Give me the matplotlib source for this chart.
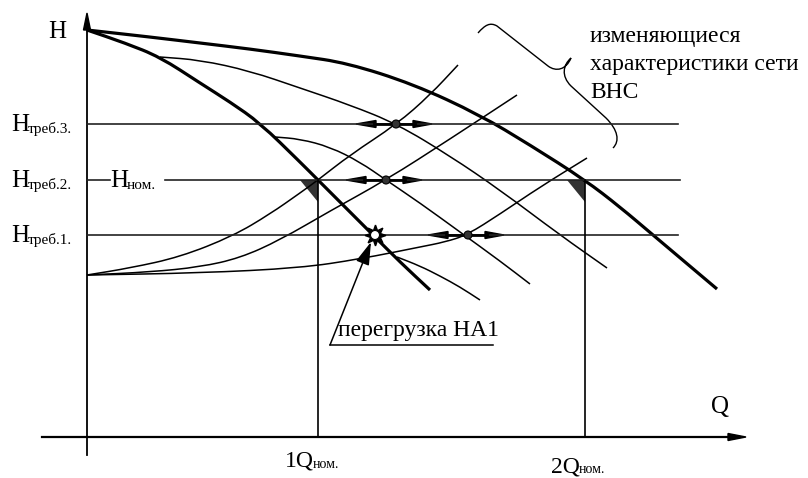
import matplotlib
matplotlib.use("Agg")
import matplotlib.pyplot as plt
from matplotlib.path import Path
from matplotlib.patches import PathPatch, Circle

plt.rcParams['font.family'] = ['Liberation Serif', 'DejaVu Serif']

# ---- schematic data (drawing units = pixels of the reference, y downwards) ----
origin = (87, 437)
# pump curves (thick): single pump HA1 and two pumps
pump1_q = [87, 125, 160, 200, 230, 260, 300, 318, 345, 373, 400, 430]
pump1_h = [30, 43, 57, 83, 102, 123, 162, 180, 207, 235, 262, 290]
pump2_q = [87, 150, 200, 250, 300, 347, 413, 480, 530, 585, 620, 653, 717]
pump2_h = [30, 37, 43, 49, 56, 63, 84, 115, 145, 180, 207, 235, 289]
# reduced pump curves (thin)
curveA_q = [160, 200, 250, 300, 350, 397, 450, 500, 560, 607]
curveA_h = [57, 60, 71, 88, 105, 124, 156, 190, 235, 268]
curveB_q = [275, 300, 330, 360, 386, 420, 460, 500, 530]
curveB_h = [137, 139, 147, 162, 180, 203, 232, 261, 284]
curveC_q = [397, 420, 440, 460, 480]
curveC_h = [257, 266, 276, 287, 300]
# network (system) characteristics
sys1_q = [87, 130, 180, 233, 270, 300, 318, 350, 397, 430, 458]
sys1_h = [275, 268, 257, 236, 214, 193, 180, 155, 124, 95, 65]
sys2_q = [87, 150, 200, 240, 280, 330, 386, 450, 517]
sys2_h = [275, 272, 267, 258, 240, 211, 180, 139, 95]
sys3_q = [87, 200, 300, 360, 420, 445, 467, 500, 540, 587]
sys3_h = [275, 273, 268, 259, 247, 242, 235, 214, 187, 158]
# required heads
h_req = [235, 180, 124]
h_req_labels = ['треб.1.', 'треб.2.', 'треб.3.']
# nominal flows
q_nom = [318, 585]
q_nom_labels = ['1Q', '2Q']
h_nom = 180
# operating points
dots_q = [468, 386, 396]
dots_h = [235, 180, 124]
overload_q, overload_h = 375, 235

fig = plt.figure(figsize=(8.08, 4.78), dpi=100)
ax = fig.add_axes([0, 0, 1, 1])
ax.set_xlim(0, 808)
ax.set_ylim(478, 0)
ax.axis('off')
fig.canvas.draw()
renderer = fig.canvas.get_renderer()

K = 'black'


def smooth(q, h, **kw):
    pts = list(zip(q, h))
    verts = [pts[0]]
    codes = [Path.MOVETO]
    mids = [((a[0] + b[0]) / 2, (a[1] + b[1]) / 2) for a, b in zip(pts[:-1], pts[1:])]
    verts.append(mids[0]); codes.append(Path.LINETO)
    for i in range(1, len(pts) - 1):
        verts += [pts[i], mids[i]]
        codes += [Path.CURVE3, Path.CURVE3]
    verts.append(pts[-1]); codes.append(Path.LINETO)
    ax.add_patch(PathPatch(Path(verts, codes), facecolor='none', **kw))


def label(x, y, main, sub, size=18, subsize=11, drop=2):
    t = ax.text(x, y, main, fontsize=size, va='baseline')
    bb = t.get_window_extent(renderer)
    x1 = ax.transData.inverted().transform((bb.x1, bb.y0))[0]
    ax.text(x1 - 1, y + drop, sub, fontsize=subsize, va='baseline')


# axes
ax.plot([origin[0], origin[0]], [455, 25], color=K, lw=1.3)
ax.plot([42, 735], [origin[1], origin[1]], color=K, lw=1.6)
ax.fill([origin[0] - 3.5, origin[0], origin[0] + 3.5], [30, 13, 30], color=K)
ax.fill([728, 746, 728], [origin[1] - 3.5, origin[1], origin[1] + 3.5], color=K)
ax.text(57, 38, 'H', fontsize=18, ha='center', va='baseline')
ax.text(720, 413, 'Q', fontsize=18, ha='center', va='baseline')

# required head lines
for h, lab in zip(h_req, h_req_labels):
    if h == h_nom:
        ax.plot([origin[0], 110], [h, h], color='#222', lw=1.2)
        ax.plot([165, 680], [h, h], color='#222', lw=1.2)
        label(110, h + 7, 'H', 'ном.')
    else:
        ax.plot([origin[0], 678], [h, h], color='#222', lw=1.2)
    label(11, h + 7, 'H', lab)

# nominal flow verticals
for q in q_nom:
    ax.plot([q, q], [h_nom, origin[1]], color=K, lw=1.2)
    ax.fill([q - 18, q, q], [h_nom, h_nom, h_nom + 22], color='#333', lw=0)
base_y = [467, 472]
lab_x = [285, 551]
for x, y, lab in zip(lab_x, base_y, q_nom_labels):
    label(x, y, lab, 'ном.', size=17, subsize=10, drop=1)

# curves
for q, h in [(pump1_q, pump1_h), (pump2_q, pump2_h)]:
    smooth(q, h, edgecolor=K, lw=2.3, capstyle='butt')
for q, h in [(curveA_q, curveA_h), (curveB_q, curveB_h), (curveC_q, curveC_h),
             (sys1_q, sys1_h), (sys2_q, sys2_h), (sys3_q, sys3_h)]:
    smooth(q, h, edgecolor=K, lw=1.1)

# operating points with arrows
for q, h in zip(dots_q, dots_h):
    ax.plot([q - 22, q + 19], [h, h], color=K, lw=2.0)
    ax.fill([q - 40, q - 20, q - 20], [h, h - 3.5, h + 3.5], color=K)
    ax.fill([q + 36, q + 17, q + 17], [h, h - 3.5, h + 3.5], color=K)
    ax.add_patch(Circle((q, h), 4, facecolor='#333', edgecolor=K, lw=0.8, zorder=5))

# overload star
ax.plot([overload_q], [overload_h], marker=(8, 1, 0), markersize=15,
        color=K, zorder=6, linestyle='none')
ax.add_patch(Circle((overload_q, overload_h), 4.5, facecolor='white',
                    edgecolor=K, lw=0.8, zorder=7))
ax.annotate('', xy=(overload_q - 4, overload_h + 7), xytext=(330, 345),
            arrowprops=dict(arrowstyle='-|>,head_length=1.0,head_width=0.3',
                            lw=1.1, color=K, mutation_scale=14, shrinkA=0, shrinkB=0))
ax.plot([330, 493], [345, 345], color=K, lw=1.1)
ax.text(338, 336, 'перегрузка HA1', fontsize=17, va='baseline')

# brace
verts = [(478, 33), (485, 25), (490, 22), (497, 26),
         (548, 66),
         (556, 72), (566, 70), (571, 58),
         (563, 65), (561, 76), (571, 86),
         (606, 118),
         (618, 130), (620, 141), (613, 148)]
codes = [Path.MOVETO, Path.CURVE4, Path.CURVE4, Path.CURVE4,
         Path.LINETO,
         Path.CURVE4, Path.CURVE4, Path.CURVE4,
         Path.CURVE4, Path.CURVE4, Path.CURVE4,
         Path.LINETO,
         Path.CURVE4, Path.CURVE4, Path.CURVE4]
ax.add_patch(PathPatch(Path(verts, codes), facecolor='none', edgecolor=K, lw=1.0))
ax.text(590, 42, 'изменяющиеся', fontsize=17, va='baseline')
ax.text(590, 70, 'характеристики сети', fontsize=17, va='baseline')
ax.text(590, 98, 'ВНС', fontsize=17, va='baseline')

fig.savefig('out.png', dpi=100)
